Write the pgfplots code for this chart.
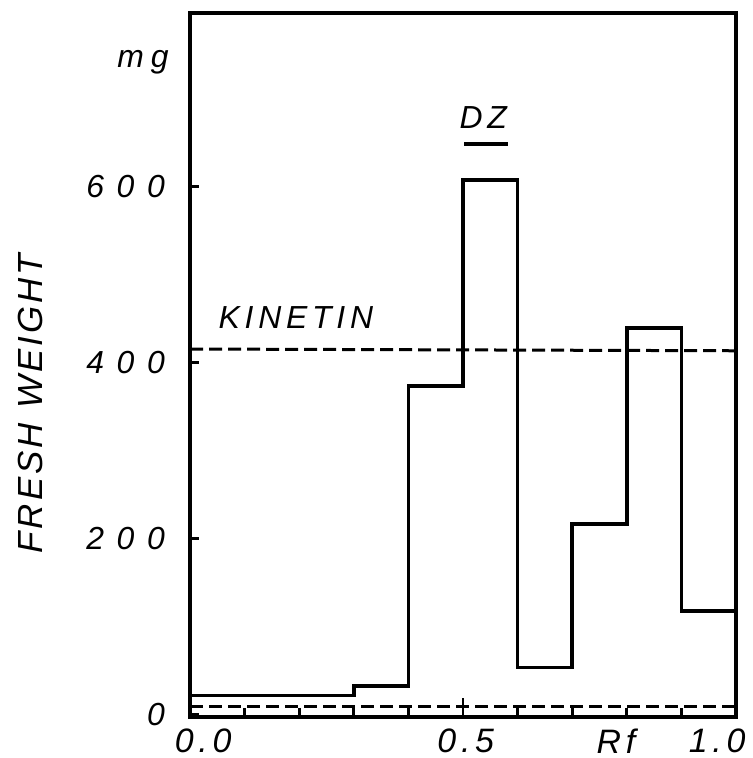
\documentclass[border=0pt]{standalone}
\usepackage{pgfplots}
\pgfplotsset{compat=1.18}
\usepackage{fontspec}
\setmainfont{Liberation Sans}
\newfontfamily\labfont[LetterSpace=40]{Liberation Sans}
\newfontfamily\xfont[LetterSpace=14]{Liberation Sans}
\newfontfamily\mgfont[LetterSpace=22]{Liberation Sans}
\newfontfamily\titfont[LetterSpace=15]{Liberation Sans}
\newfontfamily\yfont[LetterSpace=9]{Liberation Sans}
\newcommand\lf{\fontsize{16}{19}\selectfont\labfont\itshape}
\newcommand\xf{\fontsize{17}{20}\selectfont\xfont\itshape}
\newcommand\mf{\fontsize{16}{19}\selectfont\mgfont\itshape}
\newcommand\tf{\fontsize{16}{19}\selectfont\titfont\itshape}
\newcommand\yf{\fontsize{17.5}{20}\selectfont\yfont\itshape}
\begin{document}
\begin{tikzpicture}
\begin{axis}[
  scale only axis, width=273bp, height=352bp,
  xmin=0, xmax=1, ymin=-3.4, ymax=797,
  axis line style={line width=1.8bp},
  tick align=inside, xtick pos=bottom, ytick pos=left,
  major tick length=4.5bp,
  tick style={line width=1.4bp, black},
  xtick={0,0.1,0.2,0.3,0.4,0.6,0.7,0.8,0.9,1},
  xticklabels={},
  extra x ticks={0.5},
  extra x tick labels={},
  extra tick style={major tick length=9.5bp},
  ytick={0,200,400,600},
  yticklabels={0,200,400,600},
  /pgf/number format/assume math mode=true,
  yticklabel style={font=\lf, xshift=-9bp},
  clip=false,
]
% main response histogram
\addplot[const plot mark left, line width=1.8bp, black] coordinates {
  (0,21) (0.3,32) (0.4,373) (0.5,607) (0.6,53) (0.7,216) (0.8,439) (0.9,117) (1.0,117)
};
% kinetin level
\addplot[dash pattern=on 6.5bp off 3bp, line width=1.5bp, black] coordinates {(0,415) (1,413)};
% control level
\addplot[dash pattern=on 6.5bp off 3bp, line width=1.5bp, black] coordinates {(0,9) (1,9)};

\node[font=\tf] at (axis cs:0.194,451) {KINETIN};
\node[font=\tf] at (axis cs:0.537,678) {DZ};
\draw[line width=1.8bp] (axis cs:0.502,648) -- (axis cs:0.582,648);
\node[font=\mf] at (axis cs:-0.086,741) {mg};
\node[font=\xf] at (axis cs:0.024,-31) {0.0};
\node[font=\xf] at (axis cs:0.505,-31) {0.5};
\node[font=\xf] at (axis cs:0.78,-31) {Rf};
\node[font=\xf, anchor=east, inner sep=0pt] at (axis cs:1.018,-31) {1.0};
\node[font=\yf, rotate=90] at (rel axis cs:-0.293,0.445) {FRESH\hspace{7bp}WEIGHT};

\coordinate (bbl) at (rel axis cs:-0.348,-0.0582);
\coordinate (btr) at (rel axis cs:1.0293,1.0185);
\end{axis}
\pgfresetboundingbox
\path[use as bounding box] (bbl) rectangle (btr);
\end{tikzpicture}
\end{document}
